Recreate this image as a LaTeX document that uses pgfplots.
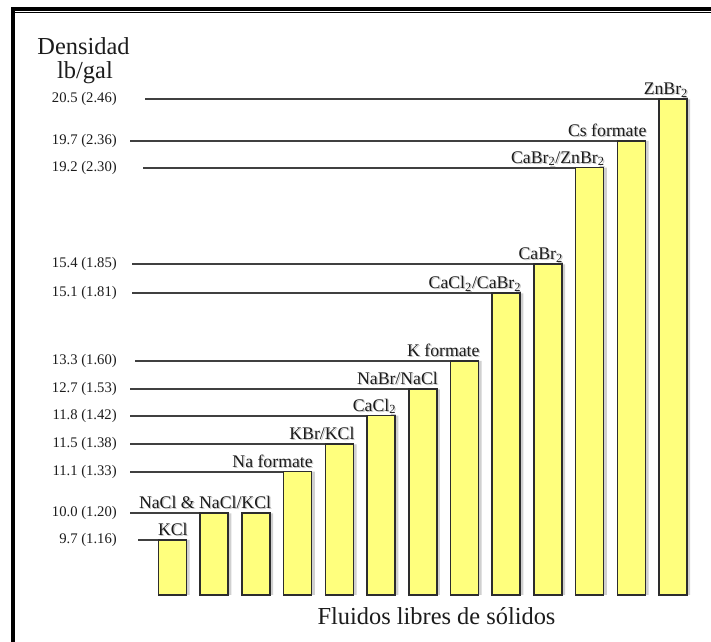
\documentclass[border=0pt]{standalone}
\usepackage{fontspec}
\setmainfont{Liberation Serif}
\usepackage{pgfplots}
\usepackage{pgfplotstable}
\pgfplotsset{compat=1.18}

\definecolor{baryellow}{RGB}{255,255,125}
\definecolor{barline}{RGB}{45,45,45}
\definecolor{rulegray}{RGB}{64,64,64}
\definecolor{txt}{RGB}{28,28,28}
\definecolor{shadowgray}{RGB}{170,170,170}

% Density scale of the chart: piecewise linear between the listed densities
% (value -> height in drawing units), so that each level gets its own step.
\newcommand\densitymap[1]{%
  \pgfmathparse{5.6701*min(#1,9.7)
    + 89*max(0,min(#1,10)-9.7)
    + 37.818*max(0,min(#1,11.1)-10)
    + 68.5*max(0,min(#1,11.5)-11.1)
    + 95.333*max(0,min(#1,11.8)-11.5)
    + 29.333*max(0,min(#1,12.7)-11.8)
    + 47.167*max(0,min(#1,13.3)-12.7)
    + 37.611*max(0,min(#1,15.1)-13.3)
    + 96.667*max(0,min(#1,15.4)-15.1)
    + 25.421*max(0,min(#1,19.2)-15.4)
    + 53.4*max(0,min(#1,19.7)-19.2)
    + 52.125*max(0,min(#1,20.5)-19.7)
    + 52*max(0,#1-20.5)}}

% Solids-free brines: position, density (lb/gal), label
\pgfplotstableread[col sep=comma]{
pos,density,label
0,9.7,KCl
1,10.0,
2,10.0,NaCl \& NaCl/KCl
3,11.1,Na formate
4,11.5,KBr/KCl
5,11.8,CaCl\textsubscript{2}
6,12.7,NaBr/NaCl
7,13.3,K formate
8,15.1,CaCl\textsubscript{2}/CaBr\textsubscript{2}
9,15.4,CaBr\textsubscript{2}
10,19.2,CaBr\textsubscript{2}/ZnBr\textsubscript{2}
11,19.7,Cs formate
12,20.5,ZnBr\textsubscript{2}
}\fluids

\newcommand\shadowtext[1]{\rlap{\textcolor{shadowgray!70}{\kern0.9pt\raisebox{-0.9pt}{#1}}}#1}

\begin{document}
\begin{tikzpicture}
\fill[white, use as bounding box] (-97.5pt,-35.25pt) rectangle (435.75pt,446.25pt);

% frame
\fill[black] (-89.25pt,438.2pt) rectangle (435.75pt,440.7pt);
\fill[black] (-87pt,436.6pt) rectangle (435.75pt,437.5pt);
\fill[black] (-89.25pt,-35.25pt) rectangle (-86pt,440.7pt);

\begin{axis}[
  at={(0pt,0pt)}, anchor=south west,
  x=31.28pt, y=0.75pt,
  xmin=-1.02, xmax=12.65,
  ymin=0, ymax=20.78,
  y coord trafo/.code={\densitymap{#1}},
  axis line style={draw=none},
  xtick=\empty,
  ytick={9.7,10.0,11.1,11.5,11.8,12.7,13.3,15.1,15.4,19.2,19.7,20.5},
  yticklabels={9.7 (1.16),10.0 (1.20),11.1 (1.33),11.5 (1.38),11.8 (1.42),
    12.7 (1.53),13.3 (1.60),15.1 (1.81),15.4 (1.85),19.2 (2.30),19.7 (2.36),20.5 (2.46)},
  major tick length=0pt,
  ytick style={draw=none},
  yticklabel style={anchor=east, inner sep=0pt, xshift=-9.75pt,
    font=\fontsize{11}{13}\selectfont, text=txt},
  /pgf/number format/assume math mode=true,
  clip=false,
  level/.style={rulegray, line width=1.4pt},
]
% reference levels running from the scale to each bar
\addplot[level] coordinates {(-0.827,9.7) (0,9.7)};
\addplot[level] coordinates {(-1.019,10.0) (1,10.0)};
\addplot[level] coordinates {(-1.019,11.1) (3,11.1)};
\addplot[level] coordinates {(-1.019,11.5) (4,11.5)};
\addplot[level] coordinates {(-1.019,11.8) (5,11.8)};
\addplot[level] coordinates {(-1.019,12.7) (6,12.7)};
\addplot[level] coordinates {(-0.899,13.3) (7,13.3)};
\addplot[level] coordinates {(-0.971,15.1) (8,15.1)};
\addplot[level] coordinates {(-0.971,15.4) (9,15.4)};
\addplot[level] coordinates {(-0.707,19.2) (10,19.2)};
\addplot[level] coordinates {(-1.019,19.7) (11,19.7)};
\addplot[level] coordinates {(-0.659,20.5) (12,20.5)};

% bar shadows
\addplot[ybar, bar width=21pt, bar shift=2.4pt, fill=shadowgray, draw=none,
  opacity=0.55] table[x=pos, y=density] {\fluids};

% bars with their labels
\addplot[ybar, bar width=21pt, bar shift=0pt, fill=baryellow, draw=barline,
  line width=1.2pt,
  point meta=explicit symbolic,
  nodes near coords={\smash{\llap{\shadowtext{\pgfplotspointmeta}}}},
  every node near coord/.append style={inner sep=0pt, outer sep=0pt,
    xshift=11.3pt, yshift=3pt, font=\fontsize{13.3}{15}\selectfont, text=txt},
] table[x=pos, y=density, meta=label] {\fluids};
\end{axis}

\node[anchor=base, font=\fontsize{18.3}{20}\selectfont, text=txt] at (-34.9pt,405pt) {Densidad};
\node[anchor=base, font=\fontsize{18.3}{20}\selectfont, text=txt] at (-33.75pt,387pt) {lb/gal};
\node[anchor=base, font=\fontsize{18.3}{20}\selectfont, text=txt] at (229.9pt,-22.5pt) {Fluidos libres de sólidos};
\end{tikzpicture}
\end{document}
